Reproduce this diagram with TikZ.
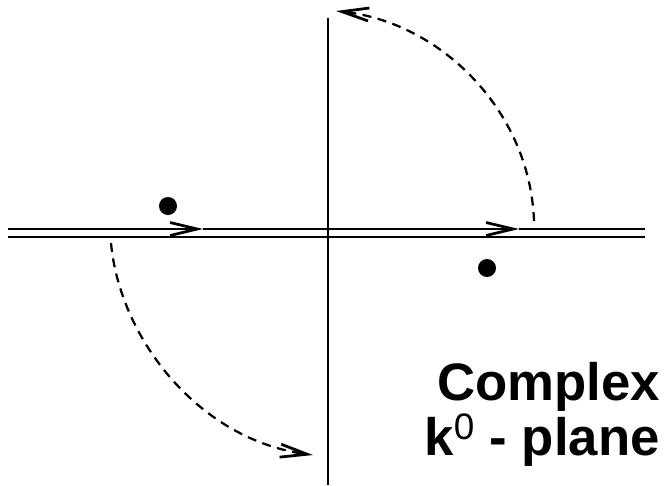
\documentclass[tikz,border=0pt]{standalone}
\usepackage{fontspec}
\setmainfont{Liberation Sans}
\usetikzlibrary{arrows.meta}

\begin{document}
\begin{tikzpicture}[
    x=0.02cm, y=-0.02cm,
    axis/.style={line width=0.045cm},
    contour/.style={line width=0.05cm},
    barb/.style={-{Straight Barb[length=0.54cm, width=0.26cm, line width=0.055cm]}},
    rotation/.style={line width=0.045cm, dash pattern=on 0.18cm off 0.13cm, barb},
    pole/.style={circle, fill=black, inner sep=0pt, minimum size=0.36cm},
    caption/.style={font=\fontsize{30}{30}\selectfont\bfseries, inner sep=0pt}
]
\useasboundingbox (0,0) rectangle (665,485);

% Axes
\coordinate (top) at (328,18);
\coordinate (bottom) at (328,485);
\draw[axis] (top) -- (bottom);

% Real axis contour (double line)
\coordinate (left) at (8,229);
\coordinate (flowA) at (203,229);
\coordinate (flowB) at (519,229);
\coordinate (right) at (645,229);
\coordinate (leftlow) at (8,237);
\coordinate (rightlow) at (645,237);
\draw[contour, barb] (left) -- (flowA);
\draw[contour, barb] (flowA) -- (flowB);
\draw[contour] (flowB) -- (right);
\draw[contour] (leftlow) -- (rightlow);

% Poles
\node[pole] (poleA) at (168,206) {};
\node[pole] (poleB) at (487,268) {};

% Wick rotation
\coordinate (startA) at (534,221);
\coordinate (endA) at (336,11);
\coordinate (startB) at (111,243);
\coordinate (endB) at (313,455);
\draw[rotation] (startA) .. controls (530,110) and (440,22) .. (endA);
\draw[rotation] (startB) .. controls (120,340) and (200,440) .. (endB);

% Label
\node[caption, anchor=base east] (complex) at (660,400) {Complex};
\node[caption, anchor=base east] (plane) at (660,455) {k\textsuperscript{\mdseries 0} - plane};

\end{tikzpicture}
\end{document}
